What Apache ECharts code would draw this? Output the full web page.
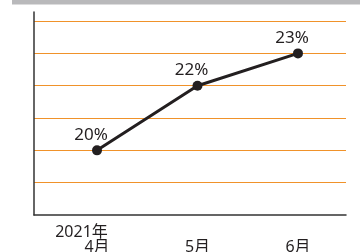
<!DOCTYPE html>
<html>
<head>
<meta charset="utf-8">
<script src="https://cdn.jsdelivr.net/npm/echarts@6/dist/echarts.min.js"></script>
<style>
  html, body { margin: 0; padding: 0; background: #fff; }
  #chart { width: 360px; height: 252px; }
</style>
</head>
<body>
<div id="chart"></div>
<script>
const years = ['2021年', '', '']
const months = ['4月', '5月', '6月']
const values = [20, 22, 23]
const yTicks = [18, 19, 20, 21, 22, 23, 24]

const fontFamily = '"Noto Sans", "Noto Sans CJK SC", sans-serif'
const ink = '#231f20'

const chart = echarts.init(document.getElementById('chart'))

const option = {
  animation: false,
  textStyle: { fontFamily: fontFamily },
  graphic: [
    {
      type: 'rect',
      left: 12,
      top: 0,
      shape: { width: 348, height: 4.5 },
      style: { fill: '#b9b9bb' },
      silent: true
    }
  ],
  grid: { left: 34, right: 14, top: 12, bottom: 37, outerBoundsMode: 'none', containLabel: false },
  xAxis: {
    type: 'value',
    min: -0.627,
    max: 2.478,
    axisLine: { show: true, onZero: false, lineStyle: { color: '#333', width: 1.5 } },
    axisTick: { show: false },
    splitLine: { show: false },
    axisLabel: {
      customValues: months.map((m, i) => i),
      margin: 10,
      color: ink,
      fontSize: 16,
      formatter: function (v) {
        const i = Math.round(v)
        const y = years[i] || ' '
        return '{y|' + y + '}\n{m|' + months[i] + '}'
      },
      rich: {
        y: { fontSize: 16, lineHeight: 15, color: ink, fontFamily: fontFamily, padding: [0, 31, 0, 0] },
        m: { fontSize: 16, lineHeight: 15, color: ink, fontFamily: fontFamily, align: 'center' }
      }
    }
  },
  yAxis: {
    type: 'value',
    min: yTicks[0],
    max: 24.28,
    interval: 1,
    axisLine: { show: true, onZero: false, lineStyle: { color: '#333', width: 1.5 } },
    axisTick: { show: false },
    axisLabel: { show: false },
    splitLine: {
      show: true,
      showMinLine: false,
      showMaxLine: false,
      lineStyle: { color: '#f0922a', width: 1 }
    }
  },
  series: [
    {
      type: 'line',
      data: values.map((v, i) => [i, v]),
      symbol: 'circle',
      symbolSize: 10,
      lineStyle: { color: ink, width: 3 },
      itemStyle: { color: ink },
      label: {
        show: true,
        position: 'top',
        distance: 2,
        offset: [-6, 0],
        fontSize: 17,
        color: ink,
        fontFamily: fontFamily,
        formatter: '{@[1]}%'
      }
    }
  ]
}

chart.setOption(option)
</script>
</body>
</html>
